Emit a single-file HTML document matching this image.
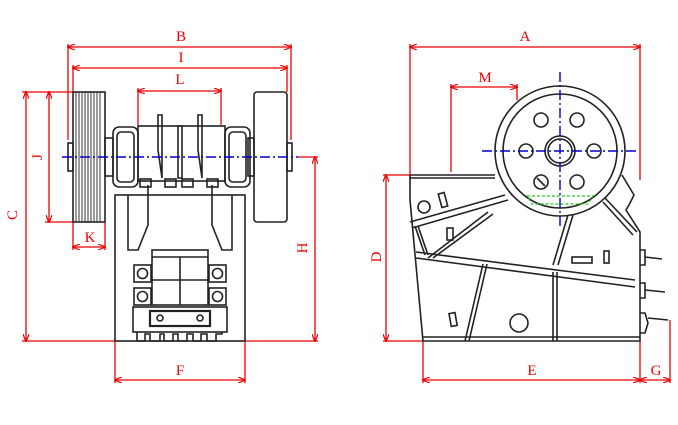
<!DOCTYPE html>
<html><head><meta charset="utf-8"><style>html,body{margin:0;padding:0;background:#fff}svg{display:block}</style></head>
<body>
<svg width="678" height="425" viewBox="0 0 678 425" xmlns="http://www.w3.org/2000/svg">
<defs>
<marker id="a" markerWidth="8" markerHeight="6" refX="7" refY="3" orient="auto-start-reverse" markerUnits="userSpaceOnUse"><path d="M0,0 L8,3 L0,6" fill="none" stroke="#e00" stroke-width="1.2"/></marker>
</defs>
<g font-family="Liberation Serif, serif" font-size="15" fill="#e00" text-anchor="middle">
<text x="181" y="41">B</text><text x="181" y="62">I</text><text x="180" y="84">L</text>
<text x="90" y="242">K</text><text x="180" y="375">F</text>
<text x="525" y="41">A</text><text x="485" y="82">M</text><text x="532" y="375">E</text><text x="656" y="375">G</text>
<text transform="translate(17,215) rotate(-90)">C</text>
<text transform="translate(42,157) rotate(-90)">J</text>
<text transform="translate(307,248) rotate(-90)">H</text>
<text transform="translate(381,257) rotate(-90)">D</text>
</g>
<g stroke="#e00" stroke-width="1.3" fill="none">
<line x1="68" y1="47" x2="291" y2="47" marker-start="url(#a)" marker-end="url(#a)"/>
<line x1="68" y1="44" x2="68" y2="140"/><line x1="291" y1="44" x2="291" y2="140"/>
<line x1="73" y1="68" x2="287" y2="68" marker-start="url(#a)" marker-end="url(#a)"/>
<line x1="73" y1="65" x2="73" y2="92"/><line x1="287" y1="65" x2="287" y2="92"/>
<line x1="138" y1="91" x2="221" y2="91" marker-start="url(#a)" marker-end="url(#a)"/>
<line x1="138" y1="88" x2="138" y2="125"/><line x1="221" y1="88" x2="221" y2="125"/>
<line x1="26" y1="92" x2="26" y2="341" marker-start="url(#a)" marker-end="url(#a)"/>
<line x1="22" y1="92" x2="73" y2="92"/><line x1="22" y1="341" x2="115" y2="341"/>
<line x1="49" y1="92" x2="49" y2="222" marker-start="url(#a)" marker-end="url(#a)"/>
<line x1="45" y1="222" x2="73" y2="222"/>
<line x1="73" y1="247" x2="105" y2="247" marker-start="url(#a)" marker-end="url(#a)"/>
<line x1="73" y1="222" x2="73" y2="250"/><line x1="105" y1="222" x2="105" y2="250"/>
<line x1="315" y1="157" x2="315" y2="341" marker-start="url(#a)" marker-end="url(#a)"/>
<line x1="298" y1="157" x2="318" y2="157"/><line x1="245" y1="341" x2="318" y2="341"/>
<line x1="115" y1="380" x2="245" y2="380" marker-start="url(#a)" marker-end="url(#a)"/>
<line x1="115" y1="341" x2="115" y2="383"/><line x1="245" y1="341" x2="245" y2="383"/>
<line x1="410" y1="47" x2="640" y2="47" marker-start="url(#a)" marker-end="url(#a)"/>
<line x1="410" y1="44" x2="410" y2="175"/><line x1="640" y1="44" x2="640" y2="180"/>
<line x1="451" y1="87" x2="517" y2="87" marker-start="url(#a)" marker-end="url(#a)"/>
<line x1="451" y1="84" x2="451" y2="172"/><line x1="517" y1="84" x2="517" y2="100"/>
<line x1="386" y1="175" x2="386" y2="341" marker-start="url(#a)" marker-end="url(#a)"/>
<line x1="383" y1="175" x2="410" y2="175"/><line x1="383" y1="341" x2="423" y2="341"/>
<line x1="423" y1="380" x2="640" y2="380" marker-start="url(#a)" marker-end="url(#a)"/>
<line x1="423" y1="341" x2="423" y2="383"/><line x1="640" y1="341" x2="640" y2="383"/>
<line x1="640" y1="380" x2="670" y2="380" marker-start="url(#a)" marker-end="url(#a)"/>
<line x1="670" y1="320" x2="670" y2="383"/>
</g>
<g stroke="#222" stroke-width="1.6" fill="none">
<rect x="73" y="92" width="32" height="130" fill="#fff"/>
<g stroke-width="1" stroke="#333">
<line x1="76" y1="92" x2="76" y2="222"/><line x1="79" y1="92" x2="79" y2="222"/><line x1="82" y1="92" x2="82" y2="222"/><line x1="85" y1="92" x2="85" y2="222"/><line x1="88" y1="92" x2="88" y2="222"/><line x1="91" y1="92" x2="91" y2="222"/><line x1="94" y1="92" x2="94" y2="222"/><line x1="97" y1="92" x2="97" y2="222"/><line x1="100" y1="92" x2="100" y2="222"/>
</g>
<rect x="254" y="92" width="33" height="130" rx="3"/>
<rect x="68" y="143" width="5" height="28"/><rect x="287" y="143" width="5" height="28"/>
<rect x="105" y="138" width="8" height="38"/><rect x="248" y="138" width="6" height="38"/>
<rect x="113" y="127" width="25" height="60" rx="6"/><rect x="225" y="127" width="25" height="60" rx="6"/>
<rect x="117" y="132" width="17" height="50" rx="4"/><rect x="229" y="132" width="17" height="50" rx="4"/>
<rect x="138" y="126" width="87" height="55"/>
<path d="M158 115 L162 115 L162 178 L158 150 Z"/><path d="M178 126 L182 126 L182 178 L178 178 Z"/><path d="M198 115 L202 115 L202 178 L198 150 Z"/>
<rect x="140" y="179" width="11" height="8"/><rect x="165" y="179" width="11" height="8"/><rect x="182" y="179" width="11" height="8"/><rect x="207" y="179" width="11" height="8"/>
<rect x="115" y="195" width="130" height="146"/>
<path d="M128 195 L128 250 L138 250 L148 225 L148 185"/><path d="M232 195 L232 250 L222 250 L212 225 L212 185"/>
<rect x="152" y="250" width="56" height="55"/>
<line x1="152" y1="257" x2="208" y2="257"/><line x1="152" y1="280" x2="208" y2="280"/><line x1="180" y1="257" x2="180" y2="305"/>
<rect x="134" y="265" width="17" height="17"/><circle cx="142.5" cy="273.5" r="5"/>
<rect x="134" y="288" width="17" height="17"/><circle cx="142.5" cy="296.5" r="5"/>
<rect x="209" y="265" width="17" height="17"/><circle cx="217.5" cy="273.5" r="5"/>
<rect x="209" y="288" width="17" height="17"/><circle cx="217.5" cy="296.5" r="5"/>
<rect x="133" y="307" width="94" height="25"/>
<rect x="150" y="311" width="60" height="15" stroke-width="2.2"/>
<circle cx="160" cy="318" r="3"/><circle cx="200" cy="318" r="3"/>
<path d="M137 332 L137 341 L145 341 L145 334 L150 334 L150 341 L160 341 L160 334 L164 334 L164 341 L173 341 L173 334 L178 334 L178 341 L187 341 L187 334 L193 334 L193 341 L201 341 L201 334 L207 334 L207 341 L216 341 L216 334 L222 334 L222 332"/>
</g>
<line x1="62" y1="157" x2="298" y2="157" stroke="#00c" stroke-width="1.4" stroke-dasharray="10,3,2,3"/>
<g stroke="#222" stroke-width="1.6" fill="none">
<path d="M410 175 L495 175"/><path d="M410 175 L410 200 L423 341 L640 341 L640 232 L626 210 L629 205 L634 195 L622 175"/>
<path d="M410 178 L495 178"/>
<path d="M410 222 L505 195 M412 228 L508 200"/>
<path d="M415 226 L425 255 M418 226 L428 255"/>
<path d="M416 252 L635 280 M416 258 L635 287"/>
<path d="M488 212 L428 258 M493 214 L433 258"/>
<path d="M568 215 L553 265 M573 215 L558 265"/>
<path d="M483 264 L465 341 M487 264 L469 341"/>
<path d="M553 272 L553 341 M557 272 L557 341"/>
<path d="M605 198 L637 232 M603 202 L633 235"/>
<line x1="423" y1="337" x2="640" y2="337"/>
<circle cx="424" cy="207" r="6"/><circle cx="519" cy="323" r="9"/>
<rect x="440" y="193" width="6" height="14" transform="rotate(-15 443 200)"/>
<rect x="447" y="228" width="6" height="12"/>
<rect x="572" y="257" width="20" height="6"/><rect x="604" y="251" width="5" height="12"/>
<rect x="450" y="313" width="6" height="13" transform="rotate(-10 453 319)"/>
<circle cx="560" cy="151" r="65" fill="#fff"/>
<circle cx="560" cy="151" r="57"/>
<circle cx="560" cy="151" r="15"/><circle cx="560" cy="151" r="12"/>
<circle cx="541" cy="120" r="7"/><circle cx="577" cy="120" r="7"/><circle cx="526" cy="151" r="7"/><circle cx="594" cy="151" r="7"/><circle cx="541" cy="182" r="7"/><circle cx="577" cy="182" r="7"/>
<line x1="537" y1="178" x2="545" y2="186"/>
<path d="M640 250 L645 250 L645 265 L640 265 M645 257 L662 259"/>
<path d="M640 283 L645 283 L645 298 L640 298 M645 290 L665 292"/>
<path d="M640 313 L645 313 L648 323 L645 333 L640 333 M648 318 L668 320"/>
</g>
<path d="M527 196 L593 196 L588 204 L532 204 Z" fill="none" stroke="#2c2" stroke-width="1.2" stroke-dasharray="3,2"/>
<g stroke="#00c" stroke-width="1.4" stroke-dasharray="10,3,2,3">
<line x1="560" y1="72" x2="560" y2="228"/><line x1="482" y1="151" x2="638" y2="151"/>
</g>
</svg>
</body></html>
